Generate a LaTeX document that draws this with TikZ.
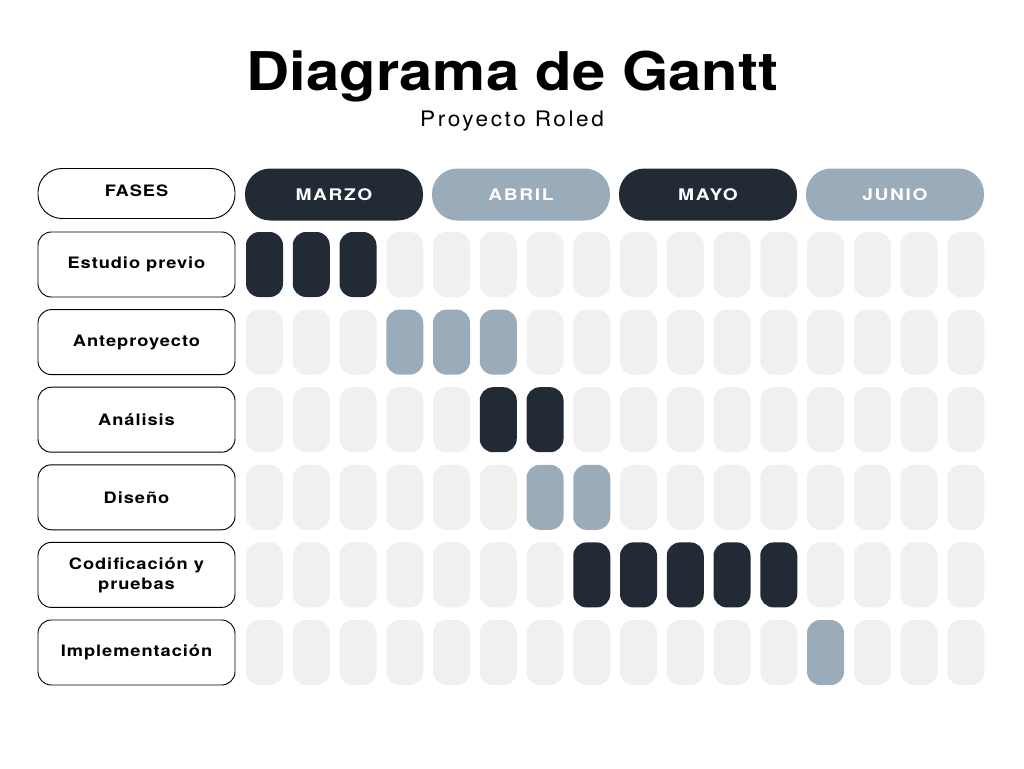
\documentclass[tikz,border=0pt]{standalone}
\usepackage{fontspec}
\setmainfont{TeX Gyre Heros}
\newfontfamily\titlefont[FakeStretch=1.12]{TeX Gyre Heros}
\newfontfamily\subfont[FakeStretch=1.06,LetterSpace=12]{TeX Gyre Heros}
\newfontfamily\labelfont[FakeStretch=1.16,LetterSpace=6]{TeX Gyre Heros}
\newfontfamily\monthfont[FakeStretch=1.2,LetterSpace=10]{TeX Gyre Heros}
\definecolor{dk}{HTML}{212A35}
\definecolor{bl}{HTML}{9AABBA}
\definecolor{lt}{HTML}{F0F0F0}
\begin{document}
\begin{tikzpicture}[x=0.75pt,y=-0.75pt,
  cell/.style={rectangle,draw=none,inner sep=0pt,minimum width=27.75pt,minimum height=48.75pt,rounded corners=10pt},
  phase/.style={rectangle,draw=black,line width=0.7pt,fill=white,inner sep=0pt,minimum width=147.75pt,minimum height=48.75pt,rounded corners=10pt,align=center,font=\labelfont\bfseries\fontsize{11.8}{15}\selectfont},
  phasehead/.style={phase,minimum height=37.5pt,rounded corners=18pt},
  month/.style={rectangle,draw=none,inner sep=0pt,minimum width=133.5pt,minimum height=39pt,rounded corners=19pt,text=white,font=\monthfont\bfseries\fontsize{12}{14}\selectfont}
]
\useasboundingbox[fill=white] (0,0) rectangle (1024,768);
\node[anchor=base,font=\titlefont\bfseries\fontsize{40}{44}\selectfont] (title) at (512.5,90) {Diagrama de Gantt};
\node[anchor=base,font=\subfont\fontsize{16}{18}\selectfont] (subtitle) at (512,126) {Proyecto Roled};
\node[phasehead] (fases) at (136.5,193.5) {};
\node[font=\labelfont\bfseries\fontsize{11.8}{15}\selectfont,inner sep=0pt] (fasestext) at (136.5,191) {FASES};
\foreach \m/\n/\c [count=\j from 0] in {marzo/MARZO/dk,abril/ABRIL/bl,mayo/MAYO/dk,junio/JUNIO/bl}
  \node[month,fill=\c] (\m) at ({334+\j*187},194.5) {\n};
\foreach \r/\s/\e/\col/\txt in {1/1/3/dk/Estudio previo,2/4/6/bl/Anteproyecto,3/6/7/dk/Análisis,4/7/8/bl/Diseño,5/8/12/dk/{Codificación y\\pruebas},6/13/13/bl/Implementación}{
  \node[phase] (p-\r) at (136.5,{264.5+(\r-1)*77.6}) {\txt};
  \foreach \i in {1,...,16}{
    \ifnum\i<\s \def\cc{lt}\else\ifnum\i>\e \def\cc{lt}\else\def\cc{\col}\fi\fi
    \node[cell,fill=\cc] (c-\r-\i) at ({264.5+(\i-1)*46.75},{264.5+(\r-1)*77.6}) {};
  }
}
\end{tikzpicture}
\end{document}
